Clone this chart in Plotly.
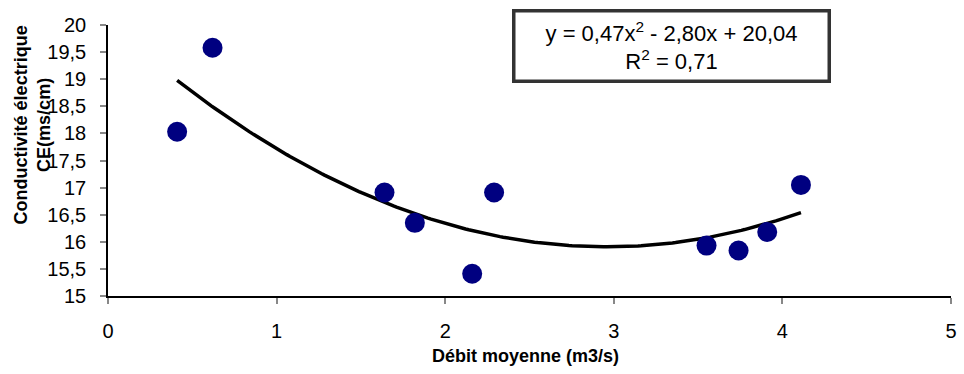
import numpy as np
import plotly.graph_objects as go

debit = [0.41, 0.62, 1.64, 1.82, 2.16, 2.29, 3.55, 3.74, 3.91, 4.11]
conductivite = [18.03, 19.58, 16.91, 16.35, 15.41, 16.91, 15.93, 15.84, 16.18, 17.05]
x_ticks = [0, 1, 2, 3, 4, 5]
y_ticks = [15, 15.5, 16, 16.5, 17, 17.5, 18, 18.5, 19, 19.5, 20]

# Polynomial (order 2) trendline fitted on the data, as in the original
coef = np.polyfit(debit, conductivite, 2)
xs = np.linspace(min(debit), max(debit), 200)
ys = np.polyval(coef, xs)

fig = go.Figure()
fig.add_trace(go.Scatter(x=xs, y=ys, mode="lines",
                         line=dict(color="black", width=3.5), hoverinfo="skip"))
fig.add_trace(go.Scatter(x=debit, y=conductivite, mode="markers",
                         marker=dict(color="#000080", size=20, line=dict(width=0))))

font_fam = "Liberation Sans, Arial, sans-serif"
fig.update_layout(
    width=964, height=374,
    margin=dict(l=108, r=7, t=25, b=78),
    paper_bgcolor="white", plot_bgcolor="white",
    showlegend=False,
    font=dict(family=font_fam, color="black"),
    xaxis=dict(range=[0, 5], tickvals=x_ticks, ticktext=[str(v) for v in x_ticks],
               showgrid=False, zeroline=False, showline=True, linecolor="black", linewidth=1.5,
               ticks="outside", ticklen=6, tickcolor="#888", tickwidth=1.5,
               tickfont=dict(size=20), ticklabelstandoff=10),
    yaxis=dict(range=[15, 20], tickvals=y_ticks,
               ticktext=[("%g" % v).replace(".", ",") for v in y_ticks],
               showgrid=False, zeroline=False, showline=True, linecolor="black", linewidth=1.5,
               ticks="outside", ticklen=6, tickcolor="#888", tickwidth=1.5,
               tickfont=dict(size=20), ticklabelstandoff=10),
)
fig.add_annotation(text="<b>Débit moyenne (m3/s)</b>", xref="paper", yref="paper",
                   x=0.495, y=-0.22, xanchor="center", yanchor="middle",
                   showarrow=False, font=dict(size=18))
fig.add_annotation(text="<b>Conductivité électrique<br>CE(ms/cm)</b>", xref="paper", yref="paper",
                   x=-0.09, y=0.63, xanchor="center", yanchor="middle", textangle=-90,
                   showarrow=False, font=dict(size=18))
fig.add_annotation(text="y = 0,47x<sup>2</sup> - 2,80x + 20,04<br>R<sup>2</sup> = 0,71",
                   xref="paper", yref="paper", x=0.668, y=0.921, xanchor="center", yanchor="middle",
                   showarrow=False, font=dict(size=22), bgcolor="white",
                   bordercolor="#333", borderwidth=3.5, borderpad=5, width=302)

fig.write_html("out.html")
